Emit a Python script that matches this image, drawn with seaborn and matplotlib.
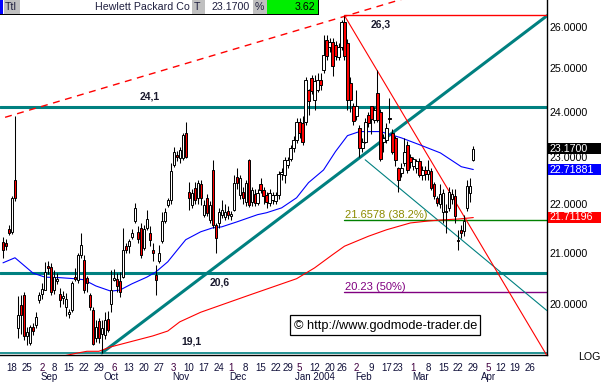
import numpy as np
import pandas as pd
import matplotlib
matplotlib.use("Agg")
import matplotlib.pyplot as plt
import matplotlib.transforms as mtransforms
from matplotlib.patches import Rectangle
import seaborn as sns

sns.set_style("white")
plt.rcParams['font.family'] = ['Liberation Sans', 'DejaVu Sans']

# ---------------- data ----------------
opens = [21.21, 21.20, 21.47, 21.42, 22.50, 19.56, 19.99, 20.17, 19.40, 19.28,
         19.58, 19.62, 20.08, 20.20, 20.28, 20.74, 20.72, 20.27, 20.45, 20.20,
         20.12, 19.95, 19.82, 19.89, 20.53, 20.47, 20.96, 20.86, 20.51, 20.17,
         19.89, 19.38, 19.68, 19.45, 19.42, 19.72, 20.01, 20.47, 20.48, 20.44,
         20.53, 21.13, 21.13, 21.32, 21.63, 21.41, 21.50, 21.09, 21.50, 21.40,
         21.06, 20.56, 20.83, 21.23, 21.63, 21.97, 22.08, 22.81, 23.03, 22.97,
         22.97, 23.52, 22.25, 21.97, 22.33, 22.11, 22.40, 21.76, 22.11, 21.66,
         22.72, 21.56, 21.59, 21.77, 21.73, 21.84, 21.75, 21.87, 22.57, 22.18,
         22.25, 22.04, 22.93, 22.04, 22.19, 22.01, 22.40, 22.29, 22.18, 22.01,
         22.08, 22.05, 22.18, 22.62, 22.60, 22.82, 22.95, 23.18, 23.37, 23.77,
         23.74, 23.77, 24.50, 24.78, 24.27, 24.50, 24.73, 24.97, 25.68, 25.50,
         25.64, 25.56, 25.28, 25.50, 26.13, 25.60, 24.66, 24.13, 23.90, 23.62,
         23.18, 23.33, 23.92, 24.13, 23.80, 24.43, 24.00, 23.33, 23.37, 23.86,
         23.52, 23.40, 22.75, 22.65, 22.86, 23.26, 22.98, 22.80, 22.75, 22.90,
         22.60, 22.72, 22.62, 22.68, 22.40, 22.11, 22.00, 21.83, 21.85, 21.90,
         22.10, 22.15, 21.26, 21.46, 21.43, 21.91, 22.22, 22.93]
highs = [21.32, 21.27, 21.55, 22.15, 23.90, 20.15, 20.17, 20.23, 19.57, 19.62,
         19.65, 19.85, 20.24, 20.40, 20.82, 20.84, 20.80, 20.66, 20.60, 20.32,
         20.26, 20.22, 19.92, 20.45, 20.70, 21.00, 21.40, 20.95, 20.55, 20.22,
         19.95, 19.70, 19.75, 19.70, 19.86, 19.88, 20.66, 20.68, 20.60, 20.62,
         21.50, 21.20, 21.28, 21.48, 22.01, 21.53, 21.60, 21.55, 21.87, 21.53,
         21.19, 20.76, 21.16, 21.83, 21.90, 22.11, 22.85, 23.20, 23.13, 23.20,
         23.52, 23.77, 22.46, 22.30, 22.45, 22.50, 22.50, 22.08, 22.20, 22.05,
         22.93, 21.60, 21.90, 22.08, 22.00, 21.95, 21.85, 22.60, 22.75, 22.60,
         22.35, 22.50, 22.95, 22.35, 22.30, 22.30, 22.54, 22.35, 22.25, 22.30,
         22.25, 22.25, 22.68, 22.75, 22.98, 23.00, 23.25, 23.45, 23.85, 23.85,
         23.90, 24.80, 24.52, 24.85, 24.84, 24.90, 24.90, 25.80, 25.80, 25.72,
         25.72, 25.65, 25.60, 26.17, 26.28, 25.70, 24.80, 24.20, 24.50, 23.70,
         23.40, 23.85, 24.00, 24.13, 24.10, 24.97, 24.05, 23.50, 23.75, 24.30,
         23.60, 23.45, 22.78, 22.85, 23.40, 23.35, 23.05, 23.00, 22.95, 22.97,
         22.80, 22.80, 22.93, 22.75, 22.45, 22.15, 22.40, 22.30, 22.00, 22.35,
         22.30, 22.30, 21.45, 21.55, 21.77, 22.50, 22.53, 23.22]
lows = [20.90, 21.05, 21.36, 21.38, 22.05, 19.37, 19.44, 19.34, 19.25, 19.25,
        19.42, 19.55, 20.02, 20.10, 20.27, 20.58, 20.18, 20.20, 20.38, 19.95,
        20.00, 19.78, 19.75, 19.85, 20.45, 20.40, 20.90, 20.22, 20.24, 19.90,
        19.24, 19.30, 19.28, 19.10, 19.35, 19.48, 19.86, 20.44, 20.24, 20.14,
        20.50, 21.00, 21.00, 21.28, 21.60, 21.19, 20.89, 21.05, 21.45, 21.13,
        20.83, 20.17, 20.80, 21.20, 21.60, 21.93, 22.00, 22.78, 22.90, 22.85,
        22.93, 22.97, 21.87, 21.90, 22.00, 22.00, 21.97, 21.73, 21.75, 21.60,
        21.50, 21.00, 21.50, 21.70, 21.65, 21.68, 21.65, 21.85, 22.30, 22.10,
        22.00, 21.95, 21.93, 21.95, 21.95, 21.97, 22.22, 22.00, 21.90, 21.95,
        22.00, 22.00, 22.10, 22.50, 22.43, 22.75, 22.90, 23.10, 23.30, 23.40,
        23.25, 23.70, 23.93, 24.40, 24.03, 24.45, 24.50, 24.90, 25.20, 25.40,
        24.82, 25.20, 25.20, 25.45, 25.20, 24.04, 24.00, 23.70, 23.80, 23.00,
        23.10, 23.30, 23.65, 23.50, 23.75, 23.76, 22.90, 23.10, 23.30, 23.74,
        23.05, 22.80, 22.25, 22.55, 22.80, 22.65, 22.75, 22.70, 22.65, 22.55,
        22.50, 22.50, 22.50, 22.28, 22.10, 21.95, 21.90, 21.60, 21.40, 21.85,
        22.00, 21.60, 21.06, 21.30, 21.33, 21.85, 22.04, 22.90]
closes = [21.06, 21.13, 21.40, 22.12, 22.12, 19.79, 19.79, 19.40, 19.48, 19.58,
          19.50, 19.76, 20.18, 20.30, 20.62, 20.70, 20.24, 20.53, 20.48, 20.08,
          20.16, 20.10, 19.86, 20.40, 20.48, 20.96, 21.16, 20.27, 20.41, 19.95,
          19.27, 19.58, 19.38, 19.55, 19.71, 19.52, 20.27, 20.51, 20.34, 20.24,
          21.06, 21.06, 21.23, 21.40, 21.90, 21.27, 20.96, 21.48, 21.69, 21.26,
          21.00, 20.47, 21.00, 21.63, 21.82, 22.08, 22.68, 23.11, 22.98, 23.15,
          23.48, 22.99, 22.11, 22.22, 22.08, 22.43, 22.11, 21.97, 21.80, 21.97,
          21.56, 21.29, 21.83, 21.87, 21.83, 21.77, 21.78, 22.43, 22.43, 22.53,
          22.11, 22.43, 21.97, 22.29, 22.01, 22.22, 22.29, 22.15, 22.04, 22.22,
          22.18, 22.18, 22.63, 22.66, 22.93, 22.93, 23.18, 23.37, 23.77, 23.52,
          23.33, 24.73, 24.23, 24.47, 24.70, 24.73, 24.60, 25.32, 25.29, 25.63,
          25.05, 25.29, 25.50, 26.13, 25.29, 24.27, 24.27, 23.78, 24.13, 23.18,
          23.33, 23.76, 23.74, 23.83, 24.03, 23.81, 22.95, 23.40, 23.63, 23.84,
          23.11, 22.93, 22.50, 22.75, 23.11, 22.71, 22.88, 22.95, 22.90, 22.60,
          22.72, 22.62, 22.72, 22.32, 22.15, 22.01, 22.20, 22.22, 21.83, 22.25,
          22.20, 21.74, 21.24, 21.39, 21.63, 22.36, 22.36, 23.17]

# moving averages (trading-day index, price)
blue_idx = [0, 4, 10, 14, 19, 24, 27, 31, 36, 39, 43, 48, 51, 55, 58, 61, 66, 70, 73, 78,
            85, 88, 93, 98, 102, 107, 111, 115, 119, 126, 133, 139, 146, 153, 157]
blue_val = [20.80, 20.90, 20.60, 20.52, 20.51, 20.49, 20.47, 20.35, 20.25, 20.27,
            20.39, 20.52, 20.62, 20.82, 21.04, 21.26, 21.42, 21.50, 21.52, 21.62,
            21.77, 21.81, 21.91, 22.12, 22.44, 22.71, 23.11, 23.46, 23.55, 23.55,
            23.41, 23.26, 23.08, 22.78, 22.72]
red_idx = [18, 25, 28, 32, 36, 43, 50, 55, 59, 66, 82, 98, 104, 110, 114, 122, 128,
           136, 142, 146, 152, 157]
red_val = [19.02, 19.10, 19.13, 19.13, 19.21, 19.31, 19.41, 19.50, 19.67, 19.85,
           20.17, 20.49, 20.70, 20.96, 21.13, 21.33, 21.46, 21.60, 21.64, 21.66,
           21.68, 21.71]

# trend lines (index, price anchors)
uptrend_idx, uptrend_val = [33, 182], [19.10, 26.30]
channel_idx, channel_val = [0.7, 134.9], [23.87, 26.73]
downtrend_idx, downtrend_val = [114, 181.6], [26.28, 19.05]
thin_idx, thin_val = [120.9, 181.6], [22.93, 19.88]
peak_idx, peak_val = 114, 26.30

levels = [24.1, 20.6, 19.1]
level_labels = ["24,1", "20,6", "19,1"]
fib_vals = [21.6578, 20.23]
fib_labels = ["21.6578 (38.2%)", "20.23 (50%)"]

last_price = 23.17
ma_short_last = 22.71881
ma_long_last = 21.71196
pct_change = 3.62

y_ticks = [20, 21, 22, 23, 24, 25, 26]
holidays = ['2003-09-01', '2003-11-27', '2003-12-25', '2004-01-01',
            '2004-01-19', '2004-02-16', '2004-04-09']
month_names = {1: "Jan 2004", 2: "Feb", 3: "Mar", 4: "Apr", 9: "Sep",
               10: "Oct", 11: "Nov", 12: "Dec"}

# ---------------- figure ----------------
W, H = 601, 383
fig = plt.figure(figsize=(W / 100, H / 100), dpi=100)
fig.patch.set_facecolor("white")
AX_R, AX_B = 547, 355
ax = fig.add_axes([0, (H - AX_B) / H, AX_R / W, AX_B / H])
ax.set_facecolor("white")
ax.set_yscale("log")
ylo, yhi = 19.063, 26.672
ax.set_ylim(ylo, yhi)
ax.set_xlim(-1.0, 181.6)

teal = "#008080"
# horizontal support lines
ax.axhline(levels[0], color=teal, lw=2.2, zorder=2)
ax.axhline(levels[1], color=teal, lw=2.2, zorder=2)
ax.axhline(levels[2], color=teal, lw=1.2, zorder=2)

# fib lines
ax.plot([peak_idx, 182], [fib_vals[0]] * 2, color="#008000", lw=1.0, zorder=2)
ax.plot([peak_idx, 182], [fib_vals[1]] * 2, color="#800080", lw=1.0, zorder=2)
ax.text(peak_idx + 0.2, fib_vals[0], fib_labels[0], color="#8c8c00", fontsize=8,
        va="bottom", ha="left", zorder=6)
ax.text(peak_idx + 0.2, fib_vals[1], fib_labels[1], color="#800080", fontsize=8,
        va="bottom", ha="left", zorder=6)

# trend lines
ax.plot(uptrend_idx, uptrend_val, color=teal, lw=2.2, zorder=3)
ax.plot(thin_idx, thin_val, color=teal, lw=0.8, zorder=3)
ax.plot(channel_idx, channel_val, color="#ff0000", lw=1.0, ls=(0, (5, 4)), zorder=3)
ax.plot(downtrend_idx, downtrend_val, color="#ff0000", lw=0.8, zorder=3)
ax.plot([peak_idx, 182], [peak_val, peak_val], color="#ff0000", lw=1.0, zorder=3)

# moving averages
sns.lineplot(x=blue_idx, y=blue_val, ax=ax, color="#0000ff", lw=0.8,
             estimator=None, sort=False, zorder=4)
sns.lineplot(x=red_idx, y=red_val, ax=ax, color="#ff0000", lw=0.8,
             estimator=None, sort=False, zorder=4)

# candles
xs = np.arange(len(closes))
o = np.array(opens); c = np.array(closes); hi = np.array(highs); lo = np.array(lows)
ax.vlines(xs, lo, hi, color="black", lw=0.75, zorder=5)
up = c >= o
bottoms = np.minimum(o, c)
heights = np.abs(c - o)
ax.bar(xs[up], heights[up], bottom=bottoms[up], width=0.75, color="white",
       edgecolor="black", lw=0.7, zorder=6)
ax.bar(xs[~up], heights[~up], bottom=bottoms[~up], width=0.75, color="#ff0000",
       edgecolor="black", lw=0.7, zorder=6)

# level annotations
ax.annotate(level_labels[0], (49, levels[0]), xytext=(0, 4), textcoords="offset points",
            ha="center", va="bottom", fontsize=7.5, fontweight="bold", color="#1a1a2e")
ax.annotate("26,3", (126, peak_val), xytext=(0, -3), textcoords="offset points",
            ha="center", va="top", fontsize=7.5, fontweight="bold", color="#1a1a2e")
ax.annotate(level_labels[1], (72.5, levels[1]), xytext=(0, -3), textcoords="offset points",
            ha="center", va="top", fontsize=7.5, fontweight="bold", color="#1a1a2e")
ax.annotate(level_labels[2], (63, levels[2]), xytext=(0, 5), textcoords="offset points",
            ha="center", va="bottom", fontsize=7.5, fontweight="bold", color="#1a1a2e")

# spines / axes
for s in ["top", "left"]:
    ax.spines[s].set_visible(False)
ax.spines["right"].set_color("black")
ax.spines["bottom"].set_color("black")
ax.spines["right"].set_linewidth(1.0)
ax.spines["bottom"].set_linewidth(1.0)
ax.yaxis.tick_right()
ax.set_yticks(y_ticks)
ax.set_yticklabels([f"{v:.4f}" for v in y_ticks])
ax.yaxis.set_minor_locator(matplotlib.ticker.NullLocator())
ax.tick_params(axis="y", length=0, pad=2, labelsize=7.7, labelcolor="black")
ax.set_xticks([])
ax.set_ylabel(""); ax.set_xlabel("")

# x-axis date labels
days = pd.bdate_range("2003-08-13", "2004-05-07")
days = days[~days.isin(pd.to_datetime(holidays))]
dser = pd.Series(days)
iso = dser.dt.isocalendar()
week_first = dser.groupby([iso.year.values, iso.week.values]).head(1)
blend = mtransforms.blended_transform_factory(ax.transData, fig.transFigure)
for n, d in week_first.items():
    if n < 3 or n > 179:
        continue
    col = "#400040" if d.day <= 7 else "#10103a"
    fig.text(n, 1 - 368 / H, str(d.day), transform=blend, ha="center", va="center",
             fontsize=7, color=col)
month_first = dser.groupby([dser.dt.year.values, dser.dt.month.values]).head(1)
for n, d in month_first.items():
    if d.month not in month_names or n > 179:
        continue
    fig.text(n - 0.4, 1 - 377 / H, month_names[d.month], transform=blend, ha="left",
             va="center", fontsize=7, color="#10103a")

def fx(px):
    return px / W

def fy(py):
    return 1 - py / H

def fig_rect(x0, y0, x1, y1, color, z=5, ec="none", lw=0):
    fig.patches.append(Rectangle((fx(x0), fy(y1)), (x1 - x0) / W, (y1 - y0) / H,
                                 transform=fig.transFigure, facecolor=color,
                                 edgecolor=ec, lw=lw, zorder=z))

# right-side value boxes
def val_to_py(v):
    disp = ax.transData.transform((0, v))[1]
    return H - disp

for v, bg, txt in [(ma_long_last, "#ff0000", f"{ma_long_last:.5f}"),
                   (ma_short_last, "#0000ff", f"{ma_short_last:.5f}"),
                   (last_price, "#000000", f"{last_price:.4f}")]:
    py = val_to_py(v)
    fig_rect(AX_R + 0.5, py - 5.5, W, py + 5.5, bg, z=5)
    fig.text(fx(AX_R + 2), fy(py), txt, color="white", fontsize=7.7, ha="left",
             va="center", zorder=6)

fig.text(fx(578), fy(357), "LOG", fontsize=7.7, ha="left", va="center", color="black")

# copyright box
fig_rect(290, 315, 480, 335, "white", z=4, ec="black", lw=0.9)
fig.text(fx(294), fy(325.5), "\u00a9 http://www.godmode-trader.de", fontsize=9.2,
         ha="left", va="center", color="black", zorder=6)

# header bar
fig_rect(0, 0, 318, 14, "white", z=4)
fig_rect(0, 0, 3, 14, "#0000ff", z=5)
fig_rect(4, 0, 20, 14, "#c0c0c0", z=5)
fig_rect(192, 0, 205, 14, "#c0c0c0", z=5)
fig_rect(253, 0, 267, 14, "#c0c0c0", z=5)
fig_rect(267, 0, 318, 14, "#00ee00", z=5)
fig_rect(0, 14, 319, 15, "black", z=5)
fig_rect(318, 0, 319, 15, "black", z=5)
hdr_y = fy(7.5)
fig.text(fx(5), hdr_y, "Ttl", fontsize=7.7, ha="left", va="center", color="#202040", zorder=6)
fig.text(fx(190), hdr_y, "Hewlett Packard Co", fontsize=7.7, ha="right", va="center",
         color="#202040", zorder=6)
fig.text(fx(194), hdr_y, "T", fontsize=7.7, ha="left", va="center", color="#202040", zorder=6)
fig.text(fx(250), hdr_y, f"{last_price:.4f}", fontsize=7.7, ha="right", va="center",
         color="#202040", zorder=6)
fig.text(fx(255), hdr_y, "%", fontsize=7.7, ha="left", va="center", color="#202040", zorder=6)
fig.text(fx(315), hdr_y, f"{pct_change:.2f}", fontsize=7.7, ha="right", va="center",
         color="black", zorder=6)

fig.savefig("out.png", dpi=100, facecolor="white")
